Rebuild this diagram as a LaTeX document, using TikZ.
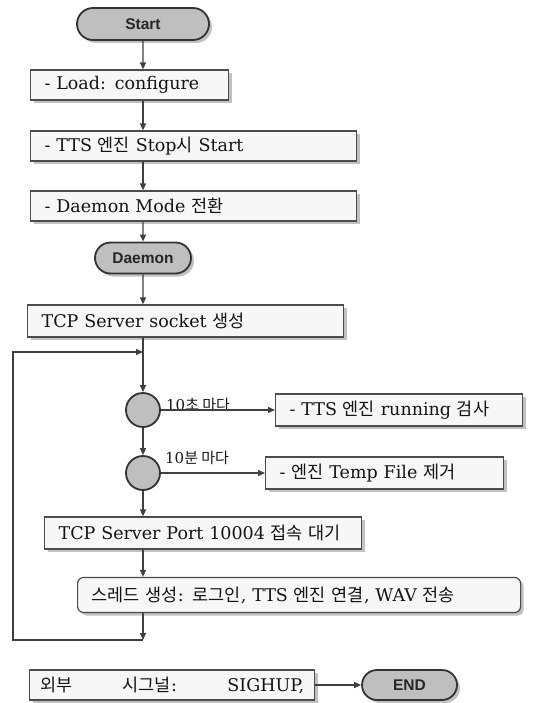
\documentclass[tikz,border=0pt]{standalone}
\usepackage{fontspec}
\setmainfont{DejaVu Serif}
\newfontfamily\kr{Noto Sans CJK KR}
\newfontfamily\tsf{Liberation Sans}
\usetikzlibrary{shapes.misc,shadows,arrows.meta,calc}
\tikzset{
  line/.style={draw=black!75, line width=1.4pt},
  arr/.style={line, -{Triangle[length=7pt,width=6pt]}},
  shd/.style={drop shadow={shadow xshift=3pt, shadow yshift=-3pt, fill=black!30, opacity=0.8}},
  box/.style={draw=black!70, line width=1.2pt, fill=black!3, shd,
    inner xsep=14pt, inner ysep=0pt, align=left, anchor=west,
    font=\fontsize{17.5}{20}\selectfont, text=black!92},
  term/.style={rounded rectangle, draw=black!80, line width=1.8pt, fill=black!25, shd,
    inner sep=0pt, font=\tsf\bfseries\fontsize{15.5}{18}\selectfont, text=black!85},
  dot/.style={circle, draw=black!80, line width=1.8pt, fill=black!25,
    minimum size=34pt, inner sep=0pt},
  lbl/.style={font=\fontsize{15}{17}\selectfont, inner sep=0pt, text=black!90}
}
\begin{document}
\begin{tikzpicture}[x=1pt,y=-1pt]
\useasboundingbox (0,0) rectangle (542,703);
% terminators and boxes
\node[term, minimum width=132pt, minimum height=32pt] (start) at (143,24) {Start};
\node[box, minimum height=30pt, text width=170pt] (load) at (30,85) {- Load: configure};
\node[box, minimum height=30pt, text width=298pt] (tts) at (30,146) {- TTS {\kr 엔진} Stop{\kr 시} Start};
\node[box, minimum height=30pt, text width=298pt] (mode) at (30,206) {- Daemon Mode {\kr 전환}};
\node[term, minimum width=96pt, minimum height=31pt] (daemon) at (143,258) {Daemon};
\node[box, minimum height=32pt, text width=288pt] (sock) at (27,321) {TCP Server socket {\kr 생성}};
\node[dot] (c1) at (143,410) {};
\node[dot] (c2) at (143,473) {};
\node[box, minimum height=32pt, text width=219pt] (run) at (275,410) {- TTS {\kr 엔진} running {\kr 검사}};
\node[box, minimum height=32pt, text width=210pt] (temp) at (265,473) {- {\kr 엔진} Temp File {\kr 제거}};
\node[box, minimum height=32pt, text width=289pt] (port) at (44,533) {TCP Server Port 10004 {\kr 접속 대기}};
\node[box, rounded corners=6pt, minimum height=35pt, text width=415pt] (thread) at (77,595) {{\kr 스레드 생성}: {\kr 로그인}, TTS {\kr 엔진 연결}, WAV {\kr 전송}};
\node[box, inner xsep=10.5pt, minimum height=30pt] (sig) at (29,685) {\makebox[264pt]{{\kr 외부}\hfill{\kr 시그널}:\hfill SIGHUP,}};
\node[term, minimum width=95pt, minimum height=30pt] (end) at (409.5,685) {END};
% labels
\node[lbl, anchor=base west] (l1) at (166,410) {10{\kr 초 마다}};
\node[lbl, anchor=base west] (l2) at (165,463) {10{\kr 분 마다}};
% loop coordinates
\coordinate (lt) at (143,352);
\coordinate (lb) at (143,640);
\coordinate (ll) at (13,352);
% connectors
\draw[arr] (start) -- (start |- load.north);
\draw[arr] (start |- load.south) -- (start |- tts.north);
\draw[arr] (start |- tts.south) -- (start |- mode.north);
\draw[arr] (start |- mode.south) -- (daemon);
\draw[arr] (daemon) -- (daemon |- sock.north);
\draw[arr] (c1 |- sock.south) -- (c1);
\draw[arr] (lb) -| (ll) -- (lt);
\draw[arr] (c1) -- (c2);
\draw[arr] (c2) -- (c2 |- port.north);
\draw[arr] (c2 |- port.south) -- (c2 |- thread.north);
\draw[arr] (c2 |- thread.south) -- (lb);
\draw[arr] (c1) -- (c1 -| run.west);
\draw[arr] (c2) -- (c2 -| temp.west);
\draw[arr] (sig) -- (end);
\end{tikzpicture}
\end{document}
